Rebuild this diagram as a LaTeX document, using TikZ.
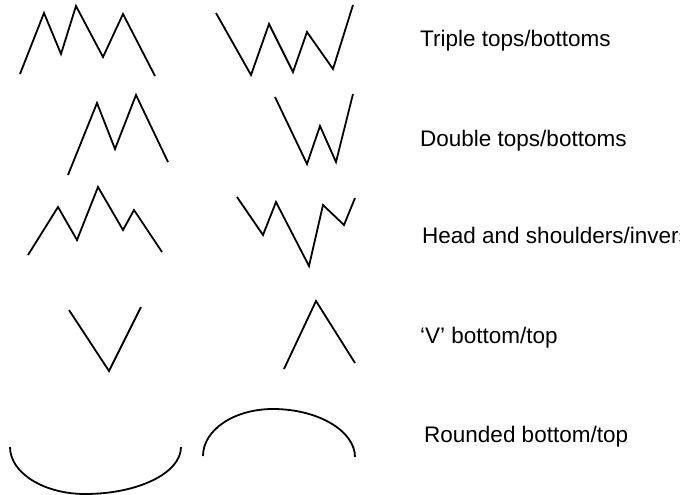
\documentclass[tikz,border=0pt]{standalone}
\usepackage{fontspec}
\setmainfont{Liberation Sans}
\begin{document}
\begin{tikzpicture}[x=1pt,y=-1pt,
  pattern/.style={line width=1.8pt,line join=miter,line cap=butt},
  label/.style={anchor=base west,inner sep=0pt,font=\fontsize{22.5}{26}\selectfont}]
\useasboundingbox (0,0) rectangle (680,495);
\clip (0,0) rectangle (680,495);
% Triple top / bottom
\draw[pattern] (20,74) -- (44,13) -- (61,54) -- (76,6) -- (103,57) -- (123,14) -- (155,76);
\draw[pattern] (216,13) -- (251,75) -- (269,24) -- (293,72) -- (307,32) -- (333,69) -- (353,5);
% Double top / bottom
\draw[pattern] (68,175) -- (97,103) -- (115,149) -- (136,95) -- (168,162);
\draw[pattern] (275,97) -- (307,164) -- (320,126) -- (336,162) -- (353,94);
% Head and shoulders / inverse
\draw[pattern] (28,255) -- (58,207) -- (77,240) -- (98,187) -- (123,230) -- (134,210) -- (162,252);
\draw[pattern] (237,197) -- (263,235) -- (276,202) -- (309,266) -- (323,205) -- (344,225) -- (355,198);
% V bottom / top
\draw[pattern] (69,310) -- (109,371) -- (141,307);
\draw[pattern] (284,369) -- (316,301) -- (355,363);
% Rounded bottom / top
\draw[pattern] (10,447) .. controls (10,473) and (44,494) .. (85,494)
  .. controls (138,494) and (181,473) .. (181,447);
\draw[pattern] (203,456) .. controls (203,430) and (234,409) .. (273,409)
  .. controls (318,409) and (355,431) .. (355,457);
% Labels
\node[label] (t1) at (420,47) {Triple tops/bottoms};
\node[label] (t2) at (420,146) {Double tops/bottoms};
\node[label] (t3) at (422,243) {Head and shoulders/inverse};
\node[label] (t4) at (420,343) {‘V’ bottom/top};
\node[label] (t5) at (424,442) {Rounded bottom/top};
\end{tikzpicture}
\end{document}
